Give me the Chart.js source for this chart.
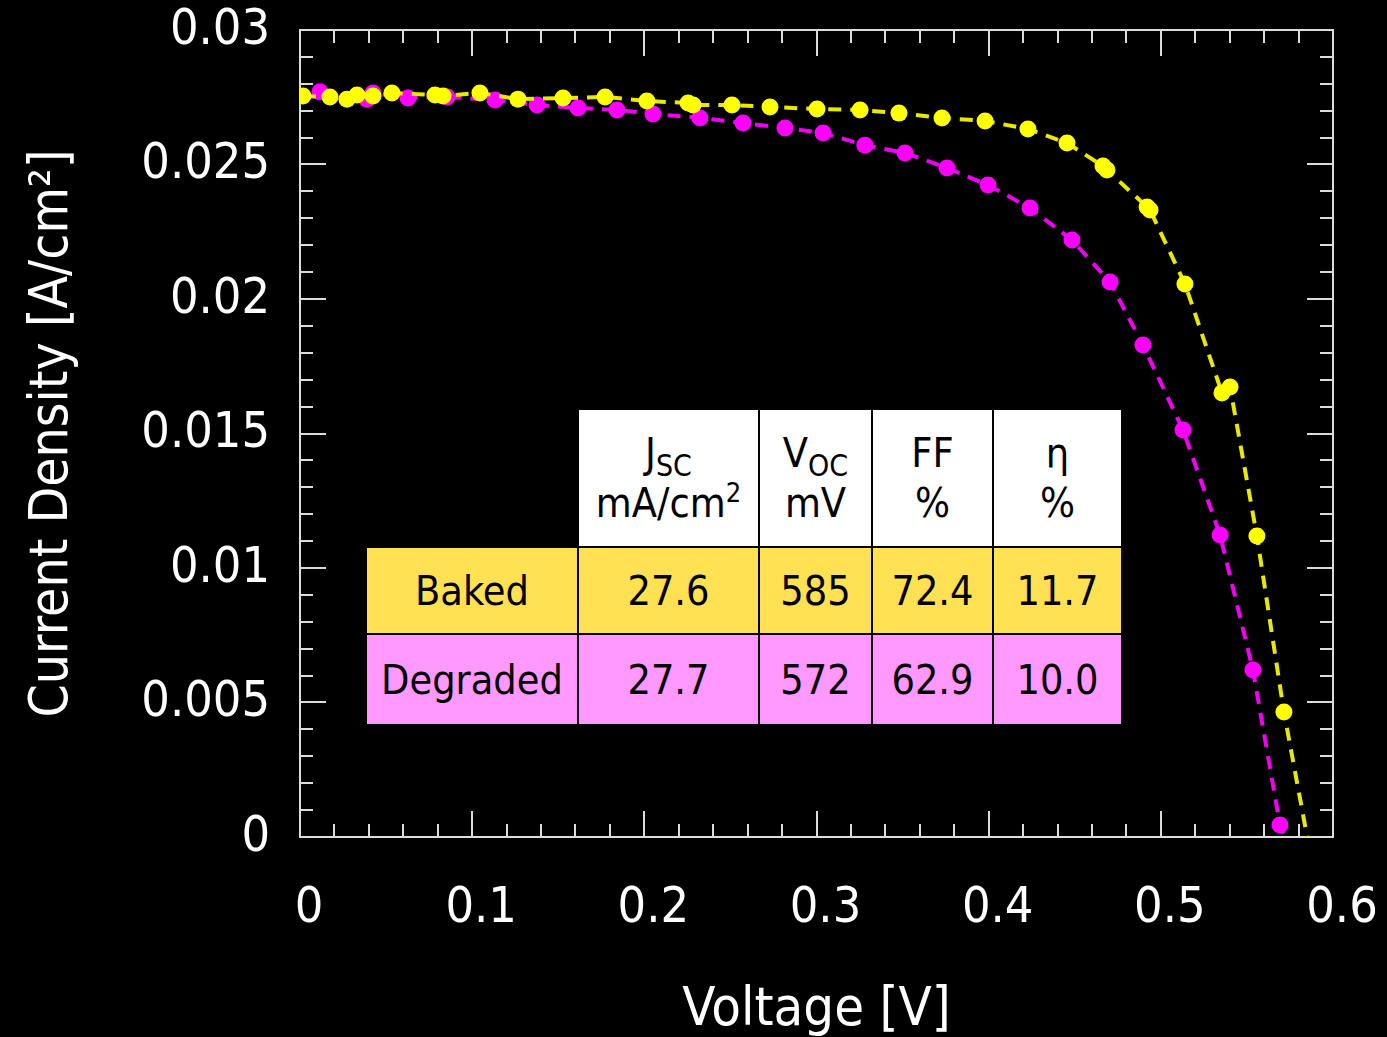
<!DOCTYPE html>
<html>
<head>
<meta charset="utf-8">
<script src="https://cdn.jsdelivr.net/npm/chart.js@4.4.1/dist/chart.umd.min.js"></script>
<style>
  html, body { margin: 0; padding: 0; background: #000; }
  #wrap { position: relative; width: 1387px; height: 1037px; overflow: hidden; }
  #plot { position: absolute; left: 0; top: 0; }
  .cell { position: absolute; box-sizing: border-box; display: flex; align-items: center; justify-content: center;
          text-align: center; color: #000; font-family: 'DejaVu Sans Condensed', 'DejaVu Sans', sans-serif;
          font-size: 41px; line-height: 50px; }
  .cell sub { font-size: 30px; vertical-align: -9px; line-height: 0; }
  .cell sup { font-size: 27px; vertical-align: 15px; line-height: 0; }
</style>
</head>
<body>
<div id="wrap">
  <canvas id="plot" width="1387" height="1037"></canvas>
  <div id="tbl"></div>
</div>
<script>
// J-V curves (voltage in V, current density in A/cm²)
const bakedV = [0.0017, 0.0174, 0.0273, 0.0331, 0.0424, 0.0534, 0.0784, 0.0831, 0.1045, 0.1266,
  0.1528, 0.1772, 0.2015, 0.2254, 0.2283, 0.2509, 0.2730, 0.3003, 0.3253, 0.3479,
  0.3729, 0.3979, 0.4228, 0.4455, 0.4664, 0.4687, 0.4920, 0.4937, 0.5140, 0.5355,
  0.5402, 0.5558, 0.5715, 0.585];
const bakedJ = [0.02755, 0.02751, 0.02743, 0.02758, 0.02755, 0.02766, 0.02758, 0.02755, 0.02766, 0.02743,
  0.02747, 0.02751, 0.02736, 0.02729, 0.02721, 0.02721, 0.02714, 0.02706, 0.02703, 0.02691,
  0.02673, 0.02662, 0.02632, 0.02580, 0.02494, 0.02480, 0.02342, 0.02331, 0.02056, 0.01651,
  0.01673, 0.01119, 0.00465, 0];

const degradedV = [0.0116, 0.0389, 0.0424, 0.0627, 0.0854, 0.1133, 0.1377, 0.1615, 0.1841, 0.2050,
  0.2323, 0.2573, 0.2817, 0.3038, 0.3281, 0.3514, 0.3758, 0.3996, 0.4240, 0.4484,
  0.4705, 0.4896, 0.5129, 0.5344, 0.5535, 0.5692, 0.572];
const degradedJ = [0.02770, 0.02743, 0.02766, 0.02747, 0.02751, 0.02740, 0.02721, 0.02710, 0.02703, 0.02688,
  0.02673, 0.02654, 0.02636, 0.02617, 0.02572, 0.02543, 0.02487, 0.02424, 0.02338, 0.02219,
  0.02063, 0.01829, 0.01513, 0.01123, 0.00621, 0.00045, 0];

// Cell parameters shown in the inset table
const sampleNames = ['Baked', 'Degraded'];
const jscValues = [27.6, 27.7];
const vocValues = [585, 572];
const ffValues = [72.4, 62.9];
const etaValues = [11.7, 10.0];

// Axis ticks and titles
const xTicks = [0, 0.1, 0.2, 0.3, 0.4, 0.5, 0.6];
const yTicks = [0, 0.005, 0.01, 0.015, 0.02, 0.025, 0.03];
const xTitle = 'Voltage [V]';
const yTitle = 'Current Density [A/cm²]';

const FONT = "'DejaVu Sans Condensed', 'DejaVu Sans', sans-serif";
const FRAME = '#dcdcdc';

function toPoints(xs, ys) { return xs.map((x, i) => ({ x: x, y: ys[i] })); }
// the final point of each curve is the open-circuit end of the line, drawn without a marker
function radii(n) { return Array.from({ length: n }, (_, i) => (i === n - 1 ? 0 : 8.5)); }
const fmt = v => String(Number(v.toFixed(3)));

// Frame, inward-pointing ticks on all four sides, tick labels and axis titles
const frameTicks = {
  id: 'frameTicks',
  beforeDatasetsDraw(chart) {
    const { ctx, chartArea: a, scales } = chart;
    const xs = scales.x, ys = scales.y;
    ctx.save();
    ctx.strokeStyle = FRAME;
    ctx.lineWidth = 2;
    ctx.strokeRect(a.left, a.top, a.right - a.left, a.bottom - a.top);
    ctx.beginPath();
    for (let i = 0; i <= 30; i++) {
      const px = Math.round(xs.getPixelForValue(i * 0.02));
      const len = (i % 5 === 0) ? 26 : 13;
      ctx.moveTo(px, a.bottom); ctx.lineTo(px, a.bottom - len);
      ctx.moveTo(px, a.top); ctx.lineTo(px, a.top + len);
    }
    for (let i = 0; i <= 30; i++) {
      const py = Math.round(ys.getPixelForValue(i * 0.001));
      const len = (i % 5 === 0) ? 26 : 13;
      ctx.moveTo(a.left, py); ctx.lineTo(a.left + len, py);
      ctx.moveTo(a.right, py); ctx.lineTo(a.right - len, py);
    }
    ctx.stroke();

    ctx.fillStyle = '#fff';
    ctx.font = '50px ' + FONT;
    ctx.textBaseline = 'middle';
    ctx.textAlign = 'center';
    xTicks.forEach(v => ctx.fillText(fmt(v), xs.getPixelForValue(v) + 9, a.bottom + 72));
    ctx.textAlign = 'right';
    yTicks.forEach(v => ctx.fillText(fmt(v), a.left - 30, ys.getPixelForValue(v) + 1));

    ctx.textBaseline = 'alphabetic';
    ctx.textAlign = 'center';
    ctx.font = '54px ' + FONT;
    ctx.fillText(xTitle, (a.left + a.right) / 2, 1025);
    ctx.save();
    ctx.translate(67, (a.top + a.bottom) / 2);
    ctx.rotate(-Math.PI / 2);
    ctx.font = '53px ' + FONT;
    ctx.fillText(yTitle, 0, 0);
    ctx.restore();
    ctx.restore();
  }
};

const chart = new Chart(document.getElementById('plot'), {
  type: 'scatter',
  data: {
    datasets: [
      {
        label: 'Baked',
        data: toPoints(bakedV, bakedJ),
        showLine: true,
        borderColor: '#e8e800',
        backgroundColor: '#ffff00',
        borderWidth: 4,
        borderDash: [13, 9],
        pointRadius: radii(bakedV.length),
        pointBorderWidth: 0,
        tension: 0
      },
      {
        label: 'Degraded',
        data: toPoints(degradedV, degradedJ),
        showLine: true,
        borderColor: '#f000f0',
        backgroundColor: '#ff00ff',
        borderWidth: 4,
        borderDash: [13, 9],
        pointRadius: radii(degradedV.length),
        pointBorderWidth: 0,
        tension: 0
      }
    ]
  },
  options: {
    responsive: false,
    animation: false,
    events: [],
    layout: { padding: { top: 30, right: 54, left: 0, bottom: 0 } },
    plugins: { legend: { display: false }, tooltip: { enabled: false } },
    scales: {
      x: {
        type: 'linear',
        min: 0, max: 0.6,
        afterBuildTicks: s => { s.ticks = xTicks.map(v => ({ value: v })); },
        afterFit: s => { s.height = 200; },
        grid: { display: false },
        border: { display: false },
        ticks: { display: false }
      },
      y: {
        type: 'linear',
        min: 0, max: 0.03,
        afterBuildTicks: s => { s.ticks = yTicks.map(v => ({ value: v })); },
        afterFit: s => { s.width = 300; },
        grid: { display: false },
        border: { display: false },
        ticks: { display: false }
      }
    }
  },
  plugins: [frameTicks]
});

// Inset table of cell parameters
(function buildTable() {
  const colEdges = [366, 578, 759, 872, 993, 1122];
  const rowEdges = [409, 547, 634, 725];
  const headers = ['J<sub>SC</sub><br>mA/cm<sup>2</sup>', 'V<sub>OC</sub><br>mV', 'FF<br>%', 'η<br>%'];
  const rowFill = ['#ffe152', '#ff99ff'];
  const tbl = document.getElementById('tbl');
  function cell(c, r, html, bg) {
    const d = document.createElement('div');
    d.className = 'cell';
    d.style.left = colEdges[c] + 'px';
    d.style.top = rowEdges[r] + 'px';
    d.style.width = (colEdges[c + 1] - colEdges[c]) + 'px';
    d.style.height = (rowEdges[r + 1] - rowEdges[r]) + 'px';
    d.style.background = bg;
    d.style.border = '1.5px solid #000';
    d.innerHTML = '<div>' + html + '</div>';
    tbl.appendChild(d);
  }
  headers.forEach((h, i) => cell(i + 1, 0, h, '#fff'));
  sampleNames.forEach((name, r) => {
    const vals = [name, jscValues[r].toFixed(1), String(vocValues[r]), ffValues[r].toFixed(1), etaValues[r].toFixed(1)];
    vals.forEach((v, c) => cell(c, r + 1, v, rowFill[r]));
  });
})();
</script>
</body>
</html>
